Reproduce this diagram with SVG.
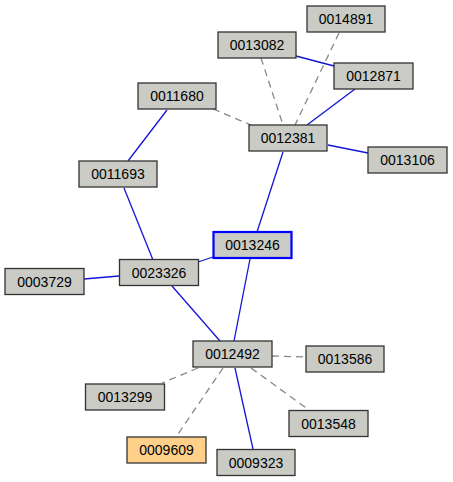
<svg xmlns="http://www.w3.org/2000/svg" width="453" height="482" viewBox="0 0 453 482">
<style>
.n rect{fill:#c9cbc4;stroke:#333;stroke-width:1.3}
.n text{font-family:"Liberation Sans",Arial,sans-serif;font-size:14px;fill:#000;text-anchor:middle}
.s{stroke:#1515d8;stroke-width:1.3;fill:none}
.d{stroke:#888;stroke-width:1.3;stroke-dasharray:7,5;fill:none}
</style>
<rect width="453" height="482" fill="#fff"/>
<g id="edges">
<line class="s" x1="296" y1="56" x2="334" y2="66"/>
<line class="d" x1="339" y1="33" x2="295" y2="125"/>
<line class="d" x1="261" y1="58" x2="283" y2="125"/>
<line class="s" x1="355" y1="89" x2="307" y2="125"/>
<line class="d" x1="213" y1="109" x2="251" y2="125"/>
<line class="s" x1="328" y1="145" x2="368" y2="153"/>
<line class="s" x1="283" y1="152" x2="257" y2="232"/>
<line class="s" x1="167" y1="110" x2="128" y2="161"/>
<line class="s" x1="124" y1="188" x2="153" y2="260"/>
<line class="s" x1="213" y1="257" x2="198" y2="262"/>
<line class="s" x1="84" y1="279" x2="119" y2="276"/>
<line class="s" x1="172" y1="286" x2="220" y2="341"/>
<line class="s" x1="250" y1="259" x2="234" y2="341"/>
<line class="d" x1="272" y1="356" x2="306" y2="357"/>
<line class="d" x1="198" y1="368" x2="162" y2="383"/>
<line class="d" x1="223" y1="368" x2="176" y2="437"/>
<line class="s" x1="235" y1="368" x2="253" y2="449"/>
<line class="d" x1="251" y1="368" x2="309" y2="410"/>
</g>
<g id="n0014891" class="n"><rect x="307" y="6" width="78" height="26"/><text x="346" y="24">0014891</text></g>
<g id="n0013082" class="n"><rect x="218" y="32" width="78" height="26"/><text x="257" y="50">0013082</text></g>
<g id="n0012871" class="n"><rect x="334" y="63" width="79" height="26"/><text x="373.5" y="81">0012871</text></g>
<g id="n0011680" class="n"><rect x="138" y="83" width="78" height="26"/><text x="177" y="101">0011680</text></g>
<g id="n0012381" class="n"><rect x="249" y="125" width="78" height="26"/><text x="288" y="143">0012381</text></g>
<g id="n0013106" class="n"><rect x="368" y="147" width="79" height="26"/><text x="407.5" y="165">0013106</text></g>
<g id="n0011693" class="n"><rect x="79" y="161" width="78" height="26"/><text x="118" y="179">0011693</text></g>
<g id="n0013246" class="n"><rect x="213.5" y="232" width="78" height="26" style="stroke:#0000ff;stroke-width:2.2"/><text x="252.5" y="250">0013246</text></g>
<g id="n0023326" class="n"><rect x="119.5" y="259.5" width="79" height="26"/><text x="159" y="277.5">0023326</text></g>
<g id="n0003729" class="n"><rect x="5" y="268.5" width="79" height="26"/><text x="44.5" y="286.5">0003729</text></g>
<g id="n0012492" class="n"><rect x="193" y="341" width="79" height="26"/><text x="232.5" y="359">0012492</text></g>
<g id="n0013586" class="n"><rect x="306" y="346" width="78" height="26"/><text x="345" y="364">0013586</text></g>
<g id="n0013299" class="n"><rect x="85.5" y="384" width="79" height="26"/><text x="125" y="402">0013299</text></g>
<g id="n0013548" class="n"><rect x="289" y="410.5" width="79" height="26"/><text x="328.5" y="428.5">0013548</text></g>
<g id="n0009609" class="n"><rect x="127" y="437" width="79" height="26" style="fill:#ffd08a"/><text x="166.5" y="455">0009609</text></g>
<g id="n0009323" class="n"><rect x="217" y="449.5" width="78" height="26"/><text x="256" y="467.5">0009323</text></g>
</svg>
